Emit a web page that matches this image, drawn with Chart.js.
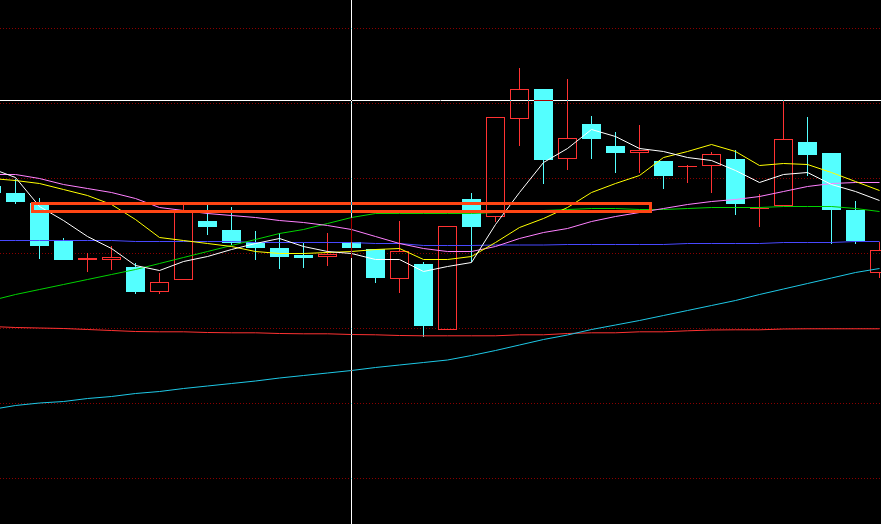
<!DOCTYPE html>
<html>
<head>
<meta charset="utf-8">
<title>K线图</title>
<script src="https://cdn.jsdelivr.net/npm/chart.js@4.4.0/dist/chart.umd.min.js"></script>
<style>
  body { margin: 0; background: #000; }
  #wrap { width: 881px; height: 524px; }
</style>
</head>
<body>
<div id="wrap"><canvas id="kChart"></canvas></div>
<script>
// daily candles, one per trading day
const opens  = [12.67, 12.60, 12.50, 12.12, 11.93, 11.93, 11.86, 11.61, 11.73, 12.32, 12.23, 12.11, 12.05, 11.98, 11.96, 12.11, 12.04, 11.74, 11.89, 11.23, 12.54, 12.36, 13.34, 13.64, 12.94, 13.29, 13.07, 13.00, 12.92, 12.86, 12.87, 12.94, 12.44, 12.47, 13.11, 13.00, 12.43, 11.80];
const highs  = [12.73, 12.74, 12.55, 12.15, 12.00, 12.07, 11.90, 11.80, 12.48, 12.49, 12.46, 12.22, 12.20, 12.10, 12.20, 12.35, 12.04, 12.32, 11.91, 12.27, 12.60, 13.36, 13.85, 13.64, 13.74, 13.37, 13.21, 13.28, 12.92, 12.88, 13.01, 13.03, 12.59, 13.53, 13.36, 13.00, 12.52, 12.11];
const lows   = [12.57, 12.49, 11.94, 11.93, 11.81, 11.83, 11.59, 11.59, 11.73, 12.18, 12.08, 11.93, 11.84, 11.85, 11.87, 11.95, 11.70, 11.60, 11.16, 11.23, 11.91, 12.31, 13.07, 12.69, 12.83, 12.94, 12.80, 12.80, 12.64, 12.70, 12.60, 12.38, 12.26, 12.47, 12.77, 12.09, 12.09, 11.75];
const closes = [12.60, 12.51, 12.07, 11.93, 11.95, 11.96, 11.61, 11.71, 12.42, 12.26, 12.10, 12.05, 11.96, 11.95, 11.99, 12.05, 11.75, 12.02, 11.27, 12.27, 12.26, 13.36, 13.64, 12.93, 13.15, 13.14, 13.00, 13.03, 12.77, 12.87, 12.99, 12.49, 12.45, 13.14, 12.98, 12.43, 12.12, 12.03];

// moving averages
const ma5   = [12.845, 12.755, 12.465, 12.325, 12.165, 12.045, 11.875, 11.825, 11.915, 11.965, 12.035, 12.095, 12.145, 12.065, 12.015, 11.995, 11.935, 11.935, 11.815, 11.865, 11.905, 12.285, 12.605, 12.905, 13.045, 13.235, 13.165, 13.045, 13.015, 12.955, 12.925, 12.825, 12.705, 12.785, 12.805, 12.685, 12.615, 12.525];
const ma10  = [12.745, 12.725, 12.695, 12.635, 12.575, 12.485, 12.335, 12.155, 12.125, 12.095, 12.065, 12.015, 11.995, 11.995, 12.005, 12.015, 12.035, 12.045, 11.935, 11.935, 11.965, 12.105, 12.255, 12.345, 12.455, 12.605, 12.695, 12.775, 12.955, 13.015, 13.085, 13.015, 12.875, 12.895, 12.885, 12.805, 12.715, 12.625];
const ma20  = [12.785, 12.785, 12.745, 12.685, 12.645, 12.605, 12.545, 12.455, 12.425, 12.395, 12.375, 12.355, 12.325, 12.305, 12.275, 12.235, 12.165, 12.095, 12.045, 12.015, 12.015, 12.065, 12.145, 12.205, 12.245, 12.315, 12.365, 12.405, 12.445, 12.485, 12.515, 12.535, 12.565, 12.615, 12.665, 12.695, 12.705, 12.705];
const ma30  = [11.525, 11.585, 11.635, 11.685, 11.735, 11.785, 11.835, 11.895, 11.955, 12.015, 12.075, 12.135, 12.195, 12.235, 12.295, 12.355, 12.395, 12.395, 12.395, 12.395, 12.395, 12.405, 12.415, 12.425, 12.435, 12.445, 12.445, 12.435, 12.435, 12.445, 12.455, 12.455, 12.455, 12.465, 12.465, 12.465, 12.445, 12.415];
const ma60  = [12.125, 12.125, 12.125, 12.125, 12.125, 12.125, 12.115, 12.115, 12.115, 12.115, 12.115, 12.105, 12.105, 12.105, 12.105, 12.105, 12.095, 12.095, 12.075, 12.075, 12.075, 12.08, 12.08, 12.08, 12.085, 12.085, 12.085, 12.085, 12.085, 12.095, 12.095, 12.095, 12.095, 12.105, 12.105, 12.105, 12.115, 12.115];
const ma120 = [10.435, 10.475, 10.50, 10.515, 10.545, 10.565, 10.595, 10.615, 10.645, 10.67, 10.695, 10.72, 10.75, 10.775, 10.80, 10.825, 10.855, 10.88, 10.905, 10.93, 10.975, 11.025, 11.08, 11.135, 11.18, 11.235, 11.28, 11.325, 11.375, 11.425, 11.475, 11.525, 11.585, 11.64, 11.695, 11.75, 11.805, 11.845];
const ma250 = [11.265, 11.255, 11.25, 11.245, 11.235, 11.225, 11.215, 11.212, 11.212, 11.205, 11.202, 11.202, 11.195, 11.192, 11.192, 11.185, 11.182, 11.175, 11.172, 11.172, 11.172, 11.172, 11.182, 11.182, 11.195, 11.202, 11.202, 11.212, 11.212, 11.222, 11.23, 11.232, 11.232, 11.24, 11.242, 11.242, 11.242, 11.242];

// price grid lines
const gridTicks = [9.75, 10.5, 11.25, 12, 12.75, 13.5, 14.25];

// crosshair and the marked range
const crossDay = 15;
const crossPrice = 13.525;
const boxFrom = 1.708, boxTo = 27.458;
const boxTop = 12.495, boxBottom = 12.415;

const yMin = 9.29, yMax = 14.53;
const xMin = 0.35416667, xMax = 37.0625;

const upColor = '#ff3232';
const downColor = '#54ffff';

function pts(values) {
    return values.map(function (v, i) { return { x: i, y: v }; });
}

function isUp(i) {
    return closes[i] >= opens[i];
}

function candleColors() {
    return opens.map(function (o, i) { return isUp(i) ? upColor : downColor; });
}

function maLine(label, values, color) {
    return {
        type: 'line',
        label: label,
        data: pts(values),
        borderColor: color,
        borderWidth: 1,
        pointRadius: 0,
        tension: 0,
        fill: false,
        order: 2
    };
}

function wick(label, data) {
    return {
        type: 'bar',
        label: label,
        data: data,
        backgroundColor: candleColors(),
        borderWidth: 0,
        barThickness: 1,
        maxBarThickness: 1,
        grouped: false,
        inflateAmount: 0,
        order: 3
    };
}

const blackBg = {
    id: 'blackBg',
    beforeDraw: function (chart) {
        const c = chart.ctx;
        c.save();
        c.fillStyle = '#000';
        c.fillRect(0, 0, chart.width, chart.height);
        c.restore();
    }
};

// crosshair is drawn inverted, like the original terminal
const invertLine = {
    id: 'invertLine',
    beforeDatasetDraw: function (chart, args) {
        if (chart.data.datasets[args.index].invert) {
            chart.ctx.globalCompositeOperation = 'difference';
        }
    },
    afterDatasetDraw: function (chart) {
        chart.ctx.globalCompositeOperation = 'source-over';
    }
};

function createKChart() {
    const upperWicks = highs.map(function (h, i) {
        return { x: i, y: [Math.max(opens[i], closes[i]), h] };
    });
    const lowerWicks = lows.map(function (l, i) {
        return { x: i, y: [l, Math.min(opens[i], closes[i])] };
    });
    const bodies = opens.map(function (o, i) {
        return { x: i, y: [o, closes[i]] };
    });

    const datasets = [
        {
            type: 'line',
            label: 'cross-h',
            data: [{ x: xMin, y: crossPrice }, { x: xMax, y: crossPrice }],
            borderColor: '#ffffff',
            borderWidth: 1,
            pointRadius: 0,
            invert: true,
            order: 0
        },
        {
            type: 'line',
            label: 'cross-v',
            data: [{ x: crossDay, y: yMin }, { x: crossDay, y: yMax }],
            borderColor: '#ffffff',
            borderWidth: 1,
            pointRadius: 0,
            invert: true,
            order: 0
        },
        {
            type: 'line',
            label: 'box',
            data: [
                { x: boxFrom, y: boxTop }, { x: boxTo, y: boxTop },
                { x: boxTo, y: boxBottom }, { x: boxFrom, y: boxBottom },
                { x: boxFrom, y: boxTop }
            ],
            borderColor: '#ff4614',
            borderWidth: 3,
            borderJoinStyle: 'miter',
            borderCapStyle: 'square',
            pointRadius: 0,
            tension: 0,
            order: 1
        },
        maLine('MA5', ma5, '#ffffff'),
        maLine('MA10', ma10, '#ffff00'),
        maLine('MA20', ma20, '#ff80ff'),
        maLine('MA30', ma30, '#00d200'),
        maLine('MA60', ma60, '#4848ff'),
        maLine('MA120', ma120, '#1ec8e6'),
        maLine('MA250', ma250, '#ff3232'),
        {
            type: 'bar',
            label: 'body',
            data: bodies,
            backgroundColor: opens.map(function (o, i) { return isUp(i) ? 'rgba(0,0,0,0)' : downColor; }),
            borderColor: candleColors(),
            borderWidth: opens.map(function (o, i) { return isUp(i) ? 1 : 0; }),
            borderSkipped: false,
            barThickness: 19,
            maxBarThickness: 19,
            grouped: false,
            inflateAmount: 0,
            order: 3
        },
        wick('upper', upperWicks),
        wick('lower', lowerWicks)
    ];

    new Chart(document.getElementById('kChart'), {
        type: 'bar',
        data: { datasets: datasets },
        options: {
            animation: false,
            responsive: true,
            maintainAspectRatio: false,
            devicePixelRatio: 1,
            events: [],
            layout: { padding: 0 },
            plugins: {
                legend: { display: false },
                tooltip: { enabled: false }
            },
            scales: {
                x: {
                    type: 'linear',
                    min: xMin,
                    max: xMax,
                    offset: false,
                    display: false,
                    grid: { display: false, offset: false }
                },
                y: {
                    type: 'linear',
                    min: yMin,
                    max: yMax,
                    ticks: { display: false },
                    border: { display: false, dash: [1, 2] },
                    grid: { color: '#8a0000', lineWidth: 1, drawTicks: false },
                    afterBuildTicks: function (axis) {
                        // half a cent down so each dotted line sits on one pixel row
                        axis.ticks = gridTicks.map(function (v) { return { value: v - 0.005 }; });
                    }
                }
            }
        },
        plugins: [blackBg, invertLine]
    });
}

createKChart();
</script>
</body>
</html>
